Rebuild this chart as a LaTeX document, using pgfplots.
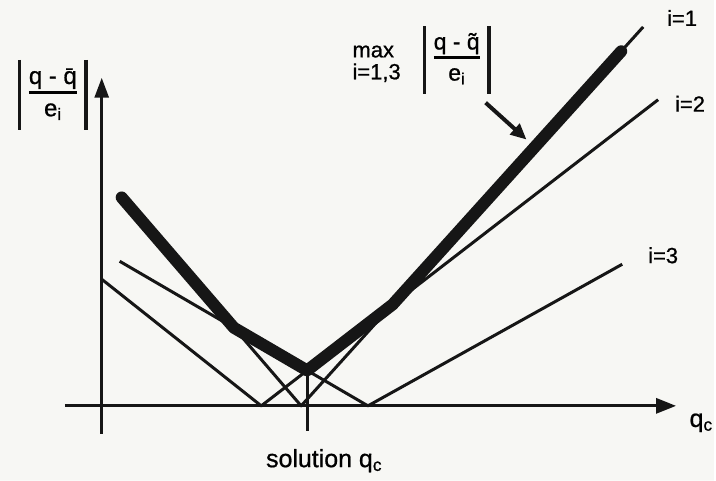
\documentclass[border=0pt]{standalone}
\usepackage{pgfplots}
\pgfplotsset{compat=1.18}
\usepackage{fontspec}
\setmainfont{Liberation Sans}[FakeBold=0.8]
\usetikzlibrary{arrows.meta}
\definecolor{ink}{RGB}{22,22,22}
\definecolor{paper}{RGB}{247,247,244}

\begin{document}
\begin{tikzpicture}
\begin{axis}[
  x=1pt, y=1pt,
  xmin=-102, xmax=614, ymin=-75, ymax=407,
  hide axis,
  clip=false,
  every axis plot/.append style={ink, line join=round},
]
% paper
\addplot[fill=paper, draw=none] coordinates {(-102,-75) (614,-75) (614,407) (-102,407)} \closedcycle;

% axes
\addplot[line width=3pt, -{Triangle[length=20pt,width=15pt]}] coordinates {(-37,0) (576,0)};
\addplot[line width=3pt, -{Triangle[length=20pt,width=14pt]}] coordinates {(0,-28) (0,329)};

% the three weighted residuals |q - q~| / e_i
\addplot[line width=3pt] coordinates {(20,209) (200,0) (543,380)};   % i=1
\addplot[line width=3pt] coordinates {(0,127) (160,0) (558,307)};    % i=2
\addplot[line width=3pt] coordinates {(18,145) (267,0) (522,142)};   % i=3

% their upper envelope
\addplot[line width=12pt, line cap=round] coordinates {(20,209) (132.6,78.3) (206,35.5) (291.7,101.6) (521,355.6)};

% minimiser of the envelope
\addplot[line width=3pt] coordinates {(206,35.5) (206,-25)};

% pointer to the envelope
\addplot[line width=4pt, -{Triangle[length=16pt,width=14pt]}] coordinates {(385,304) (426,267)};

% labels
\node[font=\fontsize{25}{28}\selectfont] at (axis cs:223,-55) {solution q\textsubscript{c}};
\node[font=\fontsize{25}{28}\selectfont, anchor=west] at (axis cs:586,-17) {q\textsubscript{c}};

\node[font=\fontsize{22}{24}\selectfont] at (axis cs:582,389) {i=1};
\node[font=\fontsize{22}{24}\selectfont] at (axis cs:590,303) {i=2};
\node[font=\fontsize{22}{24}\selectfont] at (axis cs:563,151) {i=3};

\node[font=\fontsize{24}{27}\selectfont, inner sep=0pt] (yl) at (axis cs:-49,312)
  {\setlength{\arrayrulewidth}{2.5pt}\begin{tabular}{@{}c@{}}q - q̄\\[-1pt]\hline\rule{0pt}{0.95em}e\textsubscript{i}\end{tabular}};
\draw[ink, line width=3.5pt] ([xshift=-9pt,yshift=5pt]yl.north west) -- ([xshift=-9pt,yshift=-5pt]yl.south west);
\draw[ink, line width=3.5pt] ([xshift=9pt,yshift=5pt]yl.north east) -- ([xshift=9pt,yshift=-5pt]yl.south east);

\node[font=\fontsize{22}{22}\selectfont, align=left, anchor=west] at (axis cs:248,343) {max\\i=1,3};
\node[font=\fontsize{23}{26}\selectfont, inner sep=0pt] (tl) at (axis cs:356,347)
  {\setlength{\arrayrulewidth}{2.5pt}\begin{tabular}{@{}c@{}}q - q̃\\[-1pt]\hline\rule{0pt}{0.95em}e\textsubscript{i}\end{tabular}};
\draw[ink, line width=3.5pt] ([xshift=-9pt,yshift=5pt]tl.north west) -- ([xshift=-9pt,yshift=-5pt]tl.south west);
\draw[ink, line width=3.5pt] ([xshift=9pt,yshift=5pt]tl.north east) -- ([xshift=9pt,yshift=-5pt]tl.south east);
\end{axis}
\end{tikzpicture}
\end{document}
